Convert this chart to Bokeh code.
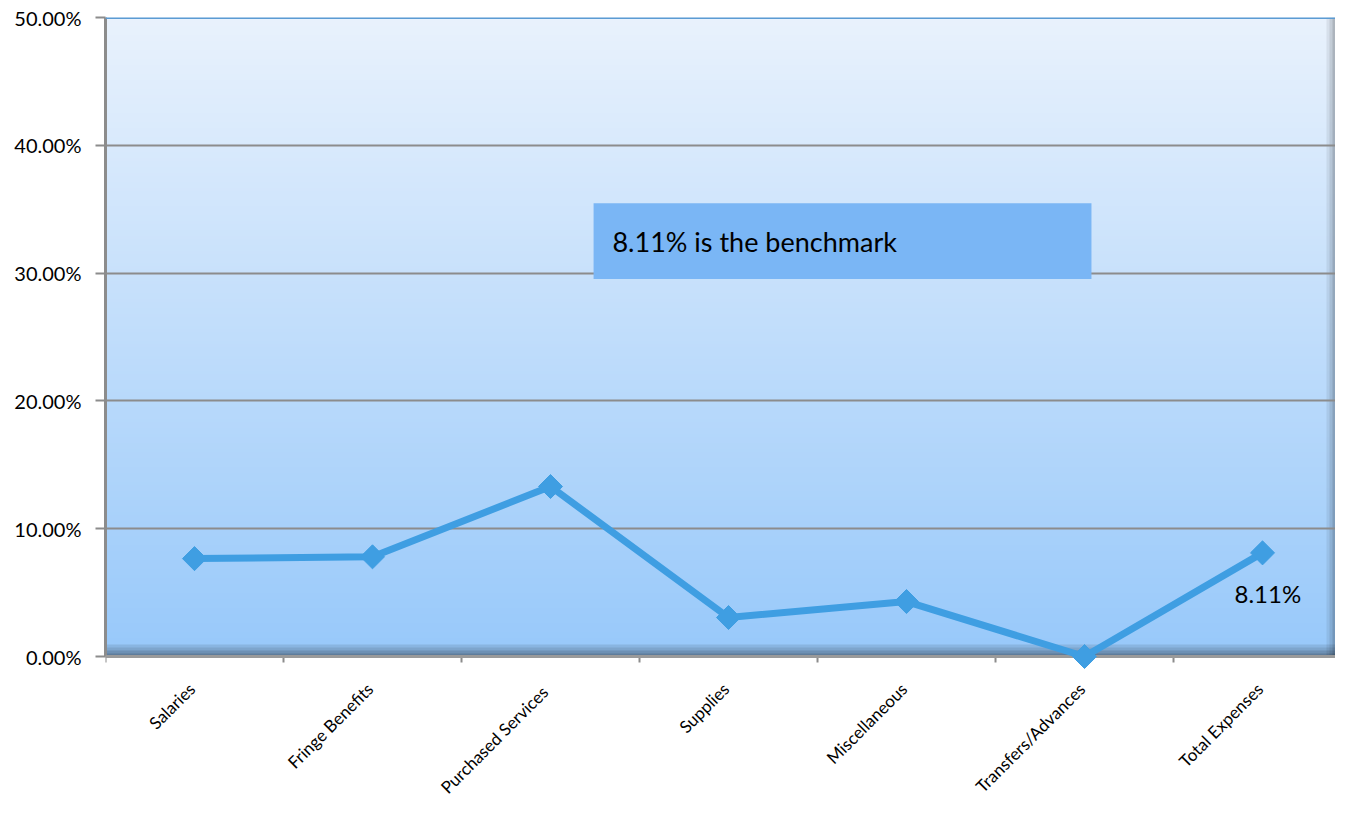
import numpy as np
from math import pi
from bokeh.plotting import figure
from bokeh.models import (Range1d, FixedTicker, NumeralTickFormatter, BoxAnnotation,
                          Label, Span, ColumnDataSource)
from bokeh.embed import file_html
from bokeh.resources import INLINE

categories = ["Salaries", "Fringe Benefits", "Purchased  Services", "Supplies",
              "Miscellaneous", "Transfers/Advances", "Total Expenses"]
values = [0.0766, 0.0780, 0.1330, 0.0305, 0.0430, 0.0000, 0.0811]
y_ticks = [0.0, 0.1, 0.2, 0.3, 0.4, 0.5]
benchmark_text = "8.11% is the benchmark"
end_label = "8.11%"

FONT = "Lato"
W_FIG, H_FIG = 1335, 801
LEFT, TOP, ZERO_PX = 105, 17, 656          # frame left, frame top, pixel row of 0 %
PX_PER_UNIT = (ZERO_PX - TOP) / 0.5
y_start = -(H_FIG - ZERO_PX) / PX_PER_UNIT  # frame reaches the figure bottom (room for labels)
x_end = 6.91
xs = [i + 0.5 for i in range(len(categories))]
edges = list(range(len(categories) + 1))

p = figure(width=W_FIG, height=H_FIG, output_backend="svg", toolbar_location=None,
           x_range=Range1d(0, x_end), y_range=Range1d(y_start, 0.5),
           x_axis_location=None,
           min_border_left=LEFT, min_border_right=0, min_border_top=TOP, min_border_bottom=0)
p.outline_line_color = None
p.background_fill_color = "#ffffff"
p.border_fill_color = "#ffffff"

# gradient background of the plot area (decoration)
H, W = 213, 410
t = np.linspace(0, 1, H)[:, None]  # 0 bottom -> 1 top
top = np.array([233, 242, 253], float)
bot = np.array([152, 201, 250], float)
img = bot + (top - bot) * t
img = np.repeat(img[:, None, :], W, axis=1).reshape(H, W, 3)
shade_b = np.array([0.62, 0.72, 0.82, 0.9])
for i, s in enumerate(shade_b):
    img[i, :, :] = img[i, :, :] * s
shade_r = [0.93, 0.85, 0.75]
for j, s in enumerate(shade_r):
    img[:, W - 3 + j, :] = img[:, W - 3 + j, :] * s
rgba = np.empty((H, W), dtype=np.uint32)
view = rgba.view(dtype=np.uint8).reshape((H, W, 4))
view[:, :, 0:3] = np.clip(img, 0, 255).astype(np.uint8)
view[:, :, 3] = 255
r_img = p.image_rgba(image=[rgba], x=0, y=0, dw=x_end, dh=0.5)
r_img.level = "image"

# grid
for g in p.xgrid:
    g.visible = False
p.ygrid.ticker = FixedTicker(ticks=y_ticks)
p.ygrid.grid_line_color = "#8c8c8c"
p.ygrid.grid_line_width = 2

# top edge and category axis line
p.add_layout(Span(location=0.5, dimension="width", line_color="#5b9bd3", line_width=3))
p.add_layout(Span(location=0, dimension="width", line_color="#9a9a9a", line_width=3))
# category boundary ticks (6 px long, pointing down)
p.segment(x0=edges, y0=[0] * len(edges), x1=edges, y1=[-6 / PX_PER_UNIT] * len(edges),
          line_color="#8c8c8c", line_width=2)

# y axis
p.yaxis.ticker = FixedTicker(ticks=y_ticks)
p.yaxis.bounds = (0, 0.5)
p.yaxis.formatter = NumeralTickFormatter(format="0.00%")
p.yaxis.axis_line_color = "#8c8c8c"
p.yaxis.axis_line_width = 3
p.yaxis.major_tick_line_color = "#8c8c8c"
p.yaxis.major_tick_line_width = 2
p.yaxis.major_tick_out = 10
p.yaxis.major_tick_in = 0
p.yaxis.minor_tick_line_color = None
p.yaxis.major_label_standoff = 14
p.yaxis.major_label_text_font = FONT
p.yaxis.major_label_text_font_size = "20px"
p.yaxis.major_label_text_color = "#000000"

# category labels, rotated, placed under each category through the x scale
for xc, name in zip(xs, categories):
    p.add_layout(Label(x=xc, y=0, text=name, angle=pi / 4, text_align="right",
                       text_baseline="top", x_offset=-10, y_offset=-22,
                       text_font=FONT, text_font_size="17px", text_color="#000000"))

# data
src = ColumnDataSource(dict(x=xs, y=values))
r_line = p.line("x", "y", source=src, line_color="#3f9ee2", line_width=7)
r_pts = p.scatter("x", "y", source=src, marker="square", angle=pi / 4, size=17,
                  fill_color="#3f9ee2", line_color="#3f9ee2")
r_line.level = "overlay"
r_pts.level = "overlay"

# annotations
p.add_layout(BoxAnnotation(left=2.742, right=5.539, bottom=0.2953, top=0.3547,
                           fill_color="#7ab6f5", fill_alpha=1.0, line_color=None))
p.add_layout(Label(x=2.848, y=0.325, text=benchmark_text, text_font=FONT,
                   text_font_size="27px", text_color="#000000", text_baseline="alphabetic"))
p.add_layout(Label(x=xs[-1], y=values[-1], text=end_label, text_font=FONT,
                   text_font_size="24px", text_color="#000000", text_baseline="top",
                   text_align="left", x_offset=-28, y_offset=-26))

open("out.html", "w").write(file_html(p, INLINE))
